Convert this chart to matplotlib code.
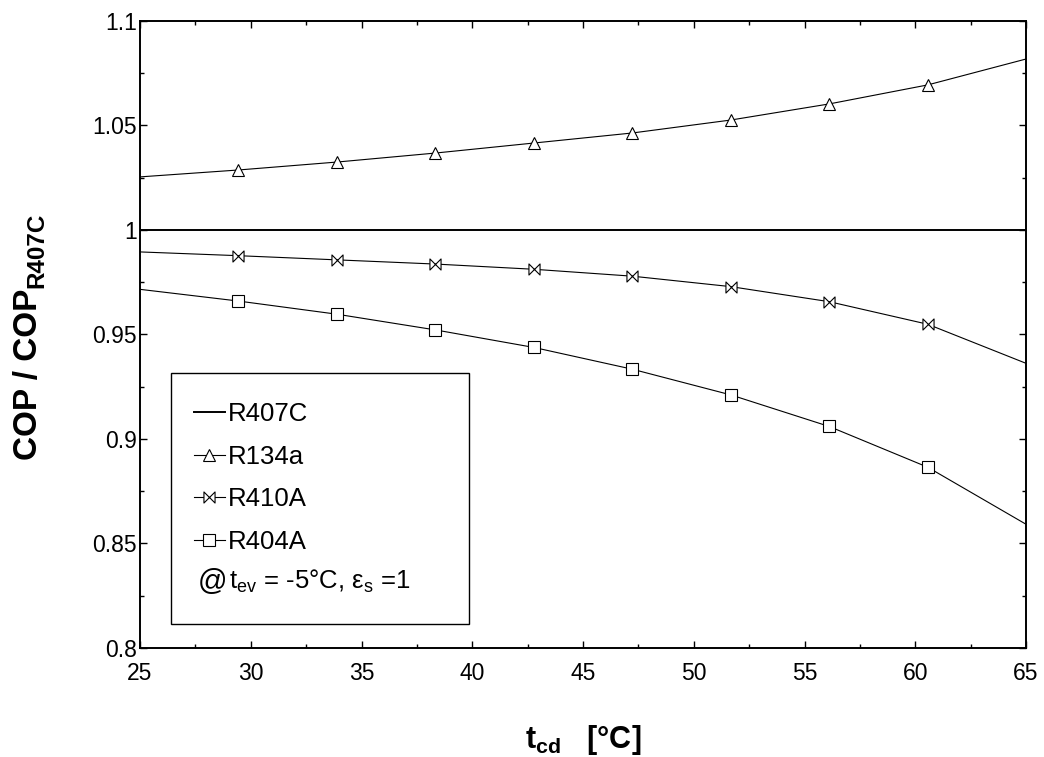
import matplotlib
matplotlib.use('Agg')
import matplotlib.pyplot as plt
from matplotlib.patches import Rectangle
from matplotlib.path import Path
from matplotlib.ticker import MultipleLocator

plt.rcParams['font.family'] = ['Liberation Sans', 'DejaVu Sans']
plt.rcParams['mathtext.fontset'] = 'custom'
plt.rcParams['mathtext.rm'] = 'Liberation Sans'
plt.rcParams['mathtext.it'] = 'Liberation Sans:italic'
plt.rcParams['mathtext.bf'] = 'Liberation Sans:style=normal:weight=bold'

# Temperatura de condensacion (puntos de la curva)
t_cd = [25.0, 29.44, 33.89, 38.33, 42.78, 47.22, 51.67, 56.11, 60.56, 65.0]

# COP relativo a R407C
cop_r407c = [1.0, 1.0, 1.0, 1.0, 1.0, 1.0, 1.0, 1.0, 1.0, 1.0]
cop_r134a = [1.0254, 1.0287, 1.0325, 1.0368, 1.0416, 1.0464, 1.0526, 1.0603, 1.0694, 1.0818]
cop_r410a = [0.9895, 0.9877, 0.9857, 0.9837, 0.9812, 0.9779, 0.9729, 0.9657, 0.9549, 0.9362]
cop_r404a = [0.9716, 0.9660, 0.9597, 0.9522, 0.9438, 0.9334, 0.9211, 0.9060, 0.8865, 0.8592]

labels = ['R407C', 'R134a', 'R410A', 'R404A']

# marcador "pajarita" para R410A (poligono cerrado)
bowtie = Path([(-1, -1), (-1, 1), (1, -1), (1, 1), (-1, -1)],
              [Path.MOVETO, Path.LINETO, Path.LINETO, Path.LINETO, Path.CLOSEPOLY])

W, H = 1044, 757
fig = plt.figure(figsize=(W / 100, H / 100), dpi=100)
ax = fig.add_axes([0.1341, 0.144, 0.8487, 0.8283])

inner = slice(1, -1)
ax.plot(t_cd, cop_r407c, color='black', lw=1.4, label=labels[0])
ax.plot(t_cd, cop_r134a, color='black', lw=0.8, marker='^', markersize=9,
        markerfacecolor='white', markeredgewidth=0.8, markevery=inner, label=labels[1])
ax.plot(t_cd, cop_r410a, color='black', lw=0.8, marker=bowtie, markersize=8,
        markerfacecolor='white', markeredgewidth=0.8, markevery=inner, label=labels[2])
ax.plot(t_cd, cop_r404a, color='black', lw=0.8, marker='s', markersize=8,
        markerfacecolor='white', markeredgewidth=0.8, markevery=inner, label=labels[3])

ax.set_xlim(25, 65)
ax.set_ylim(0.8, 1.1)
ax.xaxis.set_major_locator(MultipleLocator(5))
ax.xaxis.set_minor_locator(MultipleLocator(2.5))
ax.yaxis.set_minor_locator(MultipleLocator(0.025))
ax.set_yticks([0.8, 0.85, 0.9, 0.95, 1.0, 1.05, 1.1])
ax.set_yticklabels(['0.8', '0.85', '0.9', '0.95', '1', '1.05', '1.1'])
ax.tick_params(which='both', direction='in', top=True, right=True, labelsize=16.5)
ax.tick_params(axis='x', pad=10)
ax.tick_params(axis='y', pad=2)
ax.tick_params(which='major', length=5, width=1)
ax.tick_params(which='minor', length=3, width=1)
for s in ax.spines.values():
    s.set_linewidth(1.4)

ax.set_xlabel(r't$_{\mathbf{cd}}$   [°C]', fontsize=22, fontweight='bold')
ax.xaxis.set_label_coords(0.5, -0.12)

# etiqueta del eje y: texto principal + subindice (girados 90 grados)
ylab = fig.text(37 / W, 1 - 460 / H, 'COP / COP', rotation=90, fontsize=24,
                fontweight='bold', ha='left', va='baseline', rotation_mode='anchor')
fig.canvas.draw()
ext = ylab.get_window_extent(fig.canvas.get_renderer())
fig.text(43 / W, ext.y1 / H + 1 / H, 'R407C', rotation=90, fontsize=17.5,
         fontweight='bold', ha='left', va='baseline', rotation_mode='anchor')

# caja de la leyenda
ax.add_patch(Rectangle((0.035, 0.038), 0.336, 0.401, transform=ax.transAxes,
                       fill=False, edgecolor='black', lw=1.0, zorder=5))
ax.legend(loc='upper left', bbox_to_anchor=(0.061, 0.392), frameon=False,
          fontsize=18.5, handlelength=1.2, handletextpad=0.1, labelspacing=0.72,
          borderpad=0, borderaxespad=0)
ax.text(0.065, 0.106, r'@', transform=ax.transAxes, fontsize=21, va='center', ha='left')
ax.text(0.101, 0.106, r't$_{\mathrm{ev}}$ = -5°C, ε$_{\mathrm{s}}$ =1', transform=ax.transAxes,
        fontsize=18.5, va='center', ha='left')

fig.savefig('out.png', dpi=100)
